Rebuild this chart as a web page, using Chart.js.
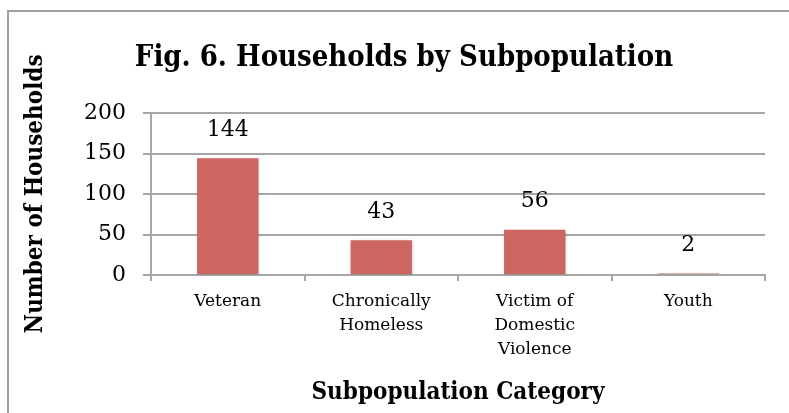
<!DOCTYPE html>
<html>
<head>
<meta charset="utf-8">
<script src="https://cdn.jsdelivr.net/npm/chart.js@4"></script>
<style>
  html, body { margin: 0; padding: 0; background: #fff; }
  #wrap { width: 789px; height: 413px; }
</style>
</head>
<body>
<div id="wrap"><canvas id="chart" width="789" height="413"></canvas></div>
<script>
const categories = ["Veteran", ["Chronically", "Homeless"], ["Victim of", "Domestic", "Violence"], "Youth"];
const households = [144, 43, 56, 2];
const yTicks = [0, 50, 100, 150, 200];
const chartTitle = "Fig. 6. Households by Subpopulation";

const serif = "'DejaVu Serif', 'Liberation Serif', serif";
const serifNarrow = "'DejaVu Serif Condensed', 'DejaVu Serif', serif";

// outer frame of the chart object
const framePlugin = {
	id: "frame",
	beforeDraw(chart) {
		const ctx = chart.ctx;
		ctx.save();
		ctx.fillStyle = "#fff";
		ctx.fillRect(0, 0, chart.width, chart.height);
		ctx.strokeStyle = "#a0a0a0";
		ctx.lineWidth = 2;
		ctx.strokeRect(8, 11, 900, 500);
		ctx.restore();
	},
};

// title is centred on the frame, not the plot
const titlePlugin = {
	id: "frameTitle",
	afterDraw(chart) {
		const ctx = chart.ctx;
		ctx.save();
		ctx.font = "bold 29px " + serifNarrow;
		ctx.fillStyle = "#000";
		ctx.textAlign = "center";
		ctx.textBaseline = "middle";
		ctx.fillText(chartTitle, 404, 58);
		ctx.restore();
	},
};

// soft shadow under bars
const barShadow = {
	id: "barShadow",
	beforeDatasetsDraw(chart) {
		const ctx = chart.ctx;
		ctx.save();
		ctx.shadowColor = "rgba(0,0,0,0.22)";
		ctx.shadowBlur = 3;
		ctx.shadowOffsetX = 1;
		ctx.shadowOffsetY = 1;
	},
	afterDatasetsDraw(chart) {
		chart.ctx.restore();
	},
};

// value labels above bars
const valueLabels = {
	id: "valueLabels",
	afterDatasetsDraw(chart) {
		const ctx = chart.ctx;
		const meta = chart.getDatasetMeta(0);
		ctx.save();
		ctx.font = "22px " + serif;
		ctx.fillStyle = "#000";
		ctx.textAlign = "center";
		ctx.textBaseline = "middle";
		meta.data.forEach((bar, i) => {
			ctx.fillText(String(households[i]), bar.x, bar.y - 28);
		});
		ctx.restore();
	},
};

const data = {
	labels: categories,
	datasets: [
		{
			data: households,
			backgroundColor: "#cc6660",
			borderWidth: 0,
			categoryPercentage: 1,
			barPercentage: 0.4,
		},
	],
};

const options = {
	responsive: false,
	animation: false,
	layout: { padding: { left: 0, right: 24, top: 113, bottom: 0 } },
	plugins: {
		legend: { display: false },
		tooltip: { enabled: false },
		title: { display: false },
	},
	scales: {
		x: {
			grid: { drawOnChartArea: false, color: "#a6a6a6", lineWidth: 2, tickLength: 6 },
			border: { color: "#a6a6a6", width: 2 },
			ticks: { color: "#000", padding: 9, font: { family: serif, size: 17, lineHeight: 1.4 }, maxRotation: 0 },
			title: {
				display: true,
				text: "Subpopulation Category",
				color: "#000",
				font: { family: serifNarrow, size: 24, weight: "bold", lineHeight: 1.2 },
				padding: { top: 6, bottom: 6 },
			},
			afterFit(scale) { scale.height = 138; },
		},
		y: {
			min: 0,
			max: 200,
			afterBuildTicks(scale) { scale.ticks = yTicks.map(v => ({ value: v })); },
			grid: { color: "#a6a6a6", lineWidth: 2, tickLength: 8 },
			border: { color: "#a6a6a6", width: 2 },
			ticks: { color: "#000", padding: 17, font: { family: serif, size: 22 } },
			title: {
				display: true,
				text: "Number of Households",
				color: "#000",
				font: { family: serifNarrow, size: 24, weight: "bold", lineHeight: 1.2 },
				padding: { top: 21, bottom: 4 },
			},
			afterFit(scale) { scale.width = 151; },
		},
	},
};

new Chart(document.getElementById("chart").getContext("2d"), {
	type: "bar",
	data: data,
	options: options,
	plugins: [framePlugin, barShadow, valueLabels, titlePlugin],
});
</script>
</body>
</html>
